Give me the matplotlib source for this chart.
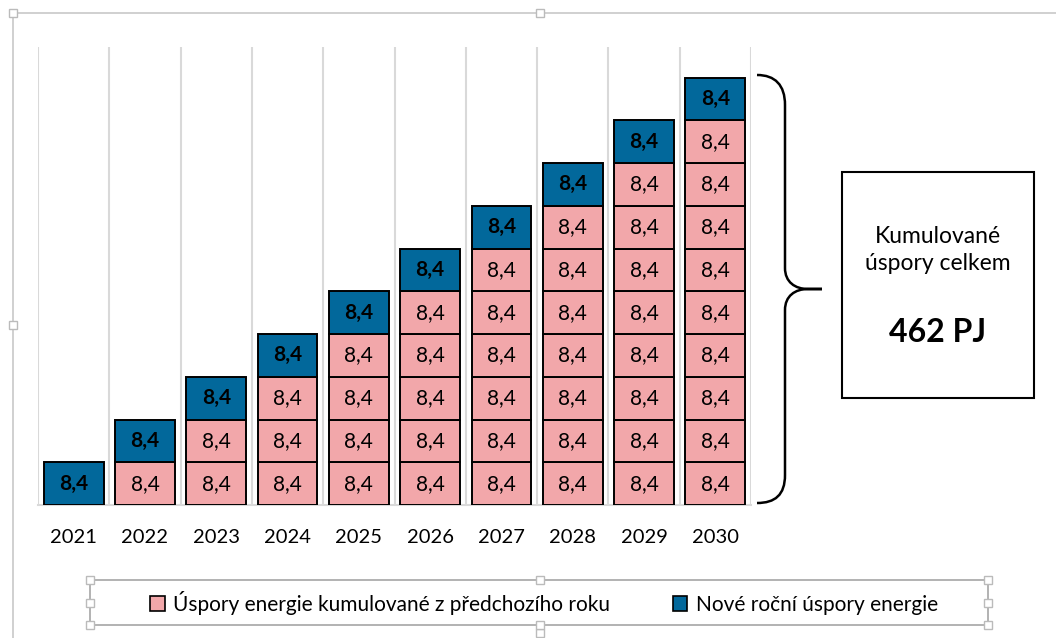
import matplotlib
matplotlib.use("Agg")
import matplotlib.pyplot as plt
from matplotlib.patches import Patch, Rectangle, PathPatch
from matplotlib.path import Path

plt.rcParams['font.family'] = ['Lato', 'DejaVu Sans']

years = ['2021', '2022', '2023', '2024', '2025', '2026', '2027', '2028', '2029', '2030']
segment = 8.4
prior_segments = [0, 1, 2, 3, 4, 5, 6, 7, 8, 9]   # pink blocks carried over
new_savings = [8.4, 8.4, 8.4, 8.4, 8.4, 8.4, 8.4, 8.4, 8.4, 8.4]
total_label = '462 PJ'
box_label = 'Kumulované\núspory celkem'
legend_labels = ['Úspory energie kumulované z předchozího roku', 'Nové roční úspory energie']

pink = '#F2A7AA'
blue = '#02689B'
grid = '#D9D9D9'

W, H = 1056, 638
fig = plt.figure(figsize=(W / 100, H / 100), dpi=100)


def fx(x):
    return x / W


def fy(y):
    return 1 - y / H


ax = fig.add_axes([fx(38), fy(505), fx(751) - fx(38), fy(47) - fy(505)])
ax.set_xlim(-0.5, 9.5)
ax.set_ylim(0, 90)

for i in range(len(years)):
    bottom = 0
    for k in range(prior_segments[i]):
        ax.bar(i, segment, bottom=bottom, width=0.84, color=pink, edgecolor='black', linewidth=1.4, zorder=3)
        ax.text(i, bottom + segment / 2, f'{segment:.1f}'.replace('.', ','), ha='center', va='center',
                fontsize=15, zorder=4)
        bottom += segment
    ax.bar(i, new_savings[i], bottom=bottom, width=0.84, color=blue, edgecolor='black', linewidth=1.4, zorder=3)
    ax.text(i, bottom + new_savings[i] / 2, f'{new_savings[i]:.1f}'.replace('.', ','), ha='center',
            va='center', fontsize=15, fontweight='bold', zorder=4)

for b in range(len(years) + 1):
    ax.axvline(b - 0.5, color=grid, lw=1.5, zorder=1)

for s in ['top', 'left', 'right']:
    ax.spines[s].set_visible(False)
ax.spines['bottom'].set_color(grid)
ax.spines['bottom'].set_linewidth(1.5)
ax.set_yticks([])
ax.set_xticks(range(len(years)))
ax.set_xticklabels(years, fontsize=14.5)
ax.tick_params(axis='x', length=0, pad=17)

# curly bracket
pts = [(757, 75), (775, 75), (785, 85), (785, 105),
       (785, 268),
       (785, 282), (795, 289), (808, 289),
       (822, 289),
       (808, 289),
       (795, 289), (785, 296), (785, 310),
       (785, 475),
       (785, 495), (775, 503), (757, 503)]
codes = [Path.MOVETO, Path.CURVE4, Path.CURVE4, Path.CURVE4,
         Path.LINETO,
         Path.CURVE4, Path.CURVE4, Path.CURVE4,
         Path.LINETO,
         Path.LINETO,
         Path.CURVE4, Path.CURVE4, Path.CURVE4,
         Path.LINETO,
         Path.CURVE4, Path.CURVE4, Path.CURVE4]
brace = Path([(fx(x), fy(y)) for x, y in pts], codes)
fig.patches.append(PathPatch(brace, transform=fig.transFigure, fill=False, edgecolor='black', lw=1.8))

# summary box
fig.patches.append(Rectangle((fx(842), fy(398)), fx(1034) - fx(842), fy(172) - fy(398),
                             transform=fig.transFigure, fill=False, edgecolor='black', lw=1.5))
fig.text(fx(938), fy(250), box_label, ha='center', va='center', fontsize=16.5, linespacing=1.3)
fig.text(fx(938), fy(332), total_label, ha='center', va='center', fontsize=23, fontweight='bold')

# chart frame (selection look)
frame = '#C8C8C8'
fig.add_artist(plt.Line2D([fx(13), fx(13)], [fy(13), fy(638)], color=frame, lw=1.2, transform=fig.transFigure))
fig.add_artist(plt.Line2D([fx(13), fx(1056)], [fy(13), fy(13)], color=frame, lw=1.2, transform=fig.transFigure))


def handle(x, y):
    fig.patches.append(Rectangle((fx(x - 4), fy(y + 4)), fx(8), 8 / H, transform=fig.transFigure,
                                 facecolor='white', edgecolor='#BBBBBB', lw=1, zorder=5))


for hx, hy in [(13, 13), (540, 13), (13, 325), (540, 633)]:
    handle(hx, hy)

# legend box
fig.patches.append(Rectangle((fx(90), fy(625)), fx(988) - fx(90), fy(580) - fy(625),
                             transform=fig.transFigure, fill=False, edgecolor='#A6A6A6', lw=1.2))
for hx, hy in [(90, 580), (540, 580), (988, 580), (90, 603), (988, 603), (90, 625), (540, 625), (988, 625)]:
    handle(hx, hy)

handles = [Patch(facecolor=pink, edgecolor='black', lw=1.2), Patch(facecolor=blue, edgecolor='black', lw=1.2)]
fig.legend(handles, legend_labels, loc='center', bbox_to_anchor=(fx(544), fy(603)), ncol=2, frameon=False,
           fontsize=15, handlelength=0.7, handleheight=0.7, handletextpad=0.4, columnspacing=3.0)

fig.savefig('out.png', dpi=100)
